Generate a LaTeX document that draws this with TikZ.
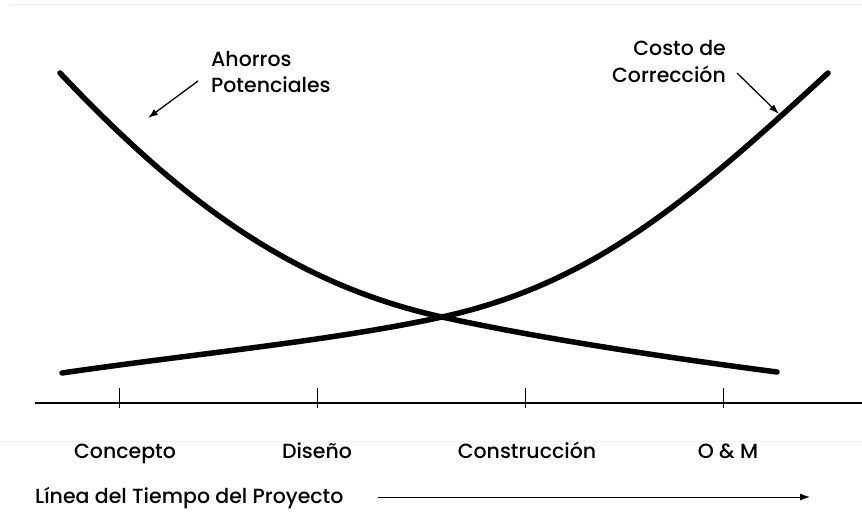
\documentclass[tikz,border=0pt]{standalone}
\usepackage{fontspec}
\setmainfont{Poppins Medium}
\usetikzlibrary{arrows.meta}
\begin{document}
\begin{tikzpicture}[x=1pt,y=-1pt,
                    curve/.style={line width=5.5pt,line cap=round},
                    caption/.style={font=\fontsize{20.5}{27}\selectfont,inner sep=0pt,anchor=base},
                    pointer/.style={line width=1.3pt,-{Latex[length=10pt,width=7pt]}}]
  \useasboundingbox (0,0) rectangle (862,516);
  \draw[gray!12,line width=1pt] (10,5) -- (862,5);
  \draw[gray!10,line width=1pt] (0,441) -- (862,441);
  % the two curves
  \coordinate (cross) at (442,317);
  \draw[curve] (60,73) .. controls (180,200) and (292,284) .. (cross)
                       .. controls (542,339) and (677,359) .. (777,372);
  \draw[curve] (62,373) .. controls (192,354) and (332,341) .. (cross)
                        .. controls (592,284) and (688,202) .. (828,73);
  \node[caption,anchor=base west] (ahorros) at (211,67) {Ahorros};
  \node[caption,anchor=base west] (potenciales) at (211,93) {Potenciales};
  \node[caption,anchor=base east] (costo) at (726,56) {Costo de};
  \node[caption,anchor=base east] (correccion) at (726,83) {Corrección};
  \coordinate (ahorrostip) at (148,118);
  \coordinate (costotip) at (779,114);
  \draw[pointer] (198,81) -- (ahorrostip);
  \draw[pointer] (737,73) -- (costotip);
  % time axis
  \draw[line width=1.3pt] (35,403) -- (862,403);
  \foreach \x/\c/\name/\txt in {119/125/concepto/Concepto, 317/317/diseno/Diseño,
                                525/527/construccion/Construcción, 723/728/om/O \& M}
  {
    \draw[line width=1pt] (\x,388) -- (\x,408);
    \node[caption] (\name) at (\c,458) {\txt};
  }
  \node[caption,anchor=base west] (timeline) at (35,503) {Línea del Tiempo del Proyecto};
  \coordinate (timestart) at (378,497);
  \coordinate (timeend) at (810,497);
  \draw[pointer,line width=1pt] (timestart) -- (timeend);
\end{tikzpicture}
\end{document}
